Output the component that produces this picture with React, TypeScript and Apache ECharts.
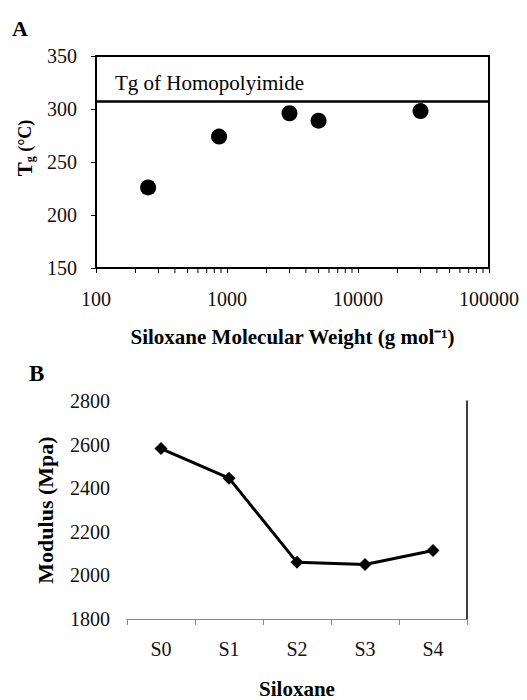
import React, { useEffect, useRef } from "react";
import * as echarts from "echarts";

const mwValues = [250, 870, 3000, 5000, 30000];
const tgValues = [226, 274, 296, 289, 298];
const homopolyimideTg = 307;
const minorTickValues = [200, 300, 400, 500, 600, 700, 800, 900, 2000, 3000, 4000, 5000, 6000, 7000, 8000, 9000, 20000, 30000, 40000, 50000, 60000, 70000, 80000, 90000];

const siloxaneCats = ["S0", "S1", "S2", "S3", "S4"];
const modulusValues = [2582, 2446, 2060, 2050, 2114];

const FONT = "'Liberation Serif', 'Times New Roman', serif";

export default function App() {
  const ref = useRef<HTMLDivElement>(null);
  useEffect(() => {
    if (!ref.current) return;
    const chart = echarts.init(ref.current, null, { renderer: "svg" });
    const labelStyle = { fontFamily: FONT, fontSize: 20, color: "#111" };
    const titleStyle = { fontFamily: FONT, fontSize: 21, fontWeight: "bold", color: "#000" };
    chart.setOption({
      animation: false,
      backgroundColor: "#fff",
      grid: [
        { left: 96, top: 56, width: 393, height: 212, show: true, borderColor: "#000", borderWidth: 2, backgroundColor: "transparent" },
        { left: 127, top: 401, width: 340, height: 224 },
      ],
      xAxis: [
        {
          gridIndex: 0,
          type: "log",
          logBase: 10,
          min: 100,
          max: 100000,
          axisLine: { show: true, lineStyle: { color: "#000", width: 2 } },
          axisTick: { show: true, inside: false, length: 5, lineStyle: { color: "#000" } },
          axisLabel: { ...labelStyle, margin: 21, formatter: (v: number) => String(Math.round(v)) },
          splitLine: { show: false },
          name: "Siloxane Molecular Weight (g mol\u207B\u00B9)",
          nameLocation: "middle",
          nameGap: 58,
          nameTextStyle: titleStyle,
        },
        {
          gridIndex: 1,
          type: "category",
          data: siloxaneCats,
          boundaryGap: true,
          axisLine: { show: true, lineStyle: { color: "#888", width: 1 } },
          axisTick: { show: true, inside: false, length: 6, alignWithLabel: false, lineStyle: { color: "#888" } },
          axisLabel: { ...labelStyle, margin: 20 },
          name: "Siloxane",
          nameLocation: "middle",
          nameGap: 59,
          nameTextStyle: titleStyle,
        },
      ],
      yAxis: [
        {
          gridIndex: 0,
          type: "value",
          min: 150,
          max: 350,
          interval: 50,
          axisLine: { show: true, lineStyle: { color: "#000", width: 2 } },
          axisTick: { show: true, inside: false, length: 5, lineStyle: { color: "#000" } },
          axisLabel: { ...labelStyle, margin: 19 },
          splitLine: { show: false },
          name: "{b|T}{s|g}{c| (°C)}",
          nameLocation: "middle",
          nameRotate: 90,
          nameGap: 60,
          nameTextStyle: {
            fontFamily: FONT,
            color: "#000",
            padding: [0, 0, 0, 28],
            rich: {
              b: { fontFamily: FONT, fontSize: 21, fontWeight: "bold", color: "#000" },
              s: { fontFamily: FONT, fontSize: 12, fontWeight: "bold", color: "#000", padding: [10, 0, 0, 0] },
              c: { fontFamily: FONT, fontSize: 18, fontWeight: "bold", color: "#000" },
            },
          },
        },
        {
          gridIndex: 1,
          type: "value",
          min: 1800,
          max: 2800,
          interval: 200,
          axisLine: { show: false },
          axisTick: { show: false },
          axisLabel: { ...labelStyle, margin: 17, formatter: (v: number) => String(v) },
          splitLine: { show: false },
          name: "Modulus (Mpa)",
          nameLocation: "middle",
          nameRotate: 90,
          nameGap: 71,
          nameTextStyle: { ...titleStyle, fontSize: 22 },
        },
        {
          gridIndex: 1,
          type: "value",
          position: "right",
          min: 1800,
          max: 2800,
          interval: 200,
          axisLine: { show: true, lineStyle: { color: "#000", width: 1.5 } },
          axisTick: { show: false },
          axisLabel: { show: false },
          splitLine: { show: false },
        },
      ],
      series: [
        {
          type: "scatter",
          xAxisIndex: 0,
          yAxisIndex: 0,
          data: mwValues.map((x, i) => [x, tgValues[i]]),
          symbol: "circle",
          symbolSize: 16,
          itemStyle: { color: "#000", opacity: 1 },
          markLine: {
            silent: true,
            symbol: "none",
            label: { show: false },
            lineStyle: { color: "#000", width: 2.5, type: "solid" },
            data: [{ yAxis: homopolyimideTg }],
          },
        },
        {
          type: "custom",
          xAxisIndex: 0,
          yAxisIndex: 0,
          silent: true,
          data: minorTickValues.map((v) => [v, 150]),
          renderItem: (params: any, api: any) => {
            const p = api.coord([api.value(0), api.value(1)]);
            return {
              type: "line",
              shape: { x1: p[0], y1: p[1] + 1, x2: p[0], y2: p[1] + 5 },
              style: { stroke: "#000", lineWidth: 1 },
            };
          },
        },
        {
          type: "line",
          xAxisIndex: 1,
          yAxisIndex: 1,
          data: modulusValues,
          symbol: "diamond",
          symbolSize: 13,
          lineStyle: { color: "#000", width: 3 },
          itemStyle: { color: "#000" },
        },
      ],
      graphic: [
        { type: "text", left: 12, top: 17, style: { text: "A", fontFamily: FONT, fontSize: 22, fontWeight: "bold", fill: "#000" } },
        { type: "text", left: 29, top: 362, style: { text: "B", fontFamily: FONT, fontSize: 23, fontWeight: "bold", fill: "#000" } },
        { type: "text", left: 115, top: 72, style: { text: "Tg of Homopolyimide", fontFamily: FONT, fontSize: 21, fill: "#000" } },
      ],
    });
    return () => chart.dispose();
  }, []);
  return <div ref={ref} style={{ position: "fixed", left: 0, top: 0, width: 527, height: 700, background: "#fff" }} />;
}
